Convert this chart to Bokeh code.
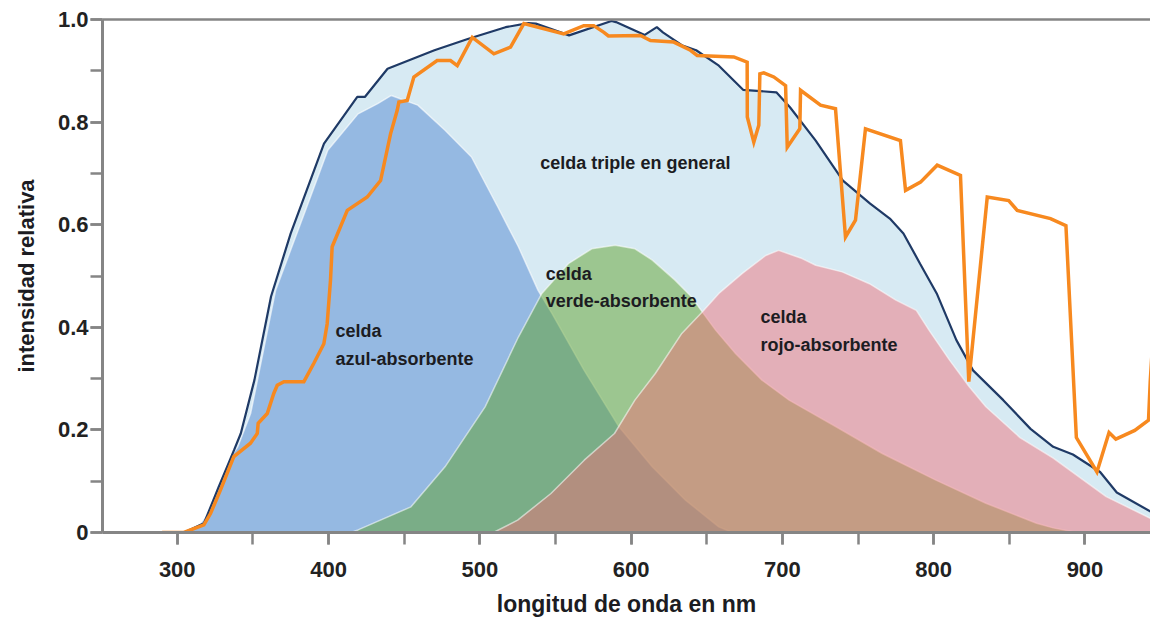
from bokeh.plotting import figure
from bokeh.models import (Label, LinearAxis, SingleIntervalTicker, FixedTicker,
                          CustomJSTickFormatter, Range1d)
from bokeh.embed import file_html
from bokeh.resources import INLINE

# ---------------- data ----------------
# overall triple cell (dark navy outline + light blue fill)
total_x = [304.5, 317.7, 326.6, 337.6, 342, 351, 362, 375, 397, 419, 424, 439, 470, 492,
           517, 532, 537, 559, 587, 590, 609, 617, 621, 634, 643, 658, 674, 696, 705, 722,
           740, 758, 771, 780, 791, 802, 815, 826, 846, 864, 879, 892, 910, 921, 945]
total_y = [0, 0.018, 0.083, 0.161, 0.193, 0.297, 0.46, 0.583, 0.758, 0.849, 0.849, 0.904,
           0.94, 0.962, 0.985, 0.993, 0.992, 0.969, 0.997, 0.995, 0.97, 0.985, 0.975, 0.949,
           0.94, 0.91, 0.863, 0.858, 0.829, 0.764, 0.686, 0.641, 0.612, 0.583, 0.524, 0.466,
           0.375, 0.316, 0.258, 0.202, 0.167, 0.152, 0.118, 0.078, 0.038]

# blue-absorbing cell
blue_x = [304, 315.5, 322, 326.5, 335.5, 340, 348.5, 353, 365, 384, 399.5, 419.5, 432.5,
          441.5, 459, 477, 494.5, 512, 525.5, 538.5, 547.5, 569, 592, 614, 636, 658, 667]
blue_y = [0, 0.018, 0.044, 0.089, 0.148, 0.167, 0.232, 0.297, 0.472, 0.622, 0.745, 0.816,
          0.836, 0.852, 0.833, 0.784, 0.732, 0.634, 0.557, 0.472, 0.428, 0.316, 0.206,
          0.128, 0.063, 0.011, 0]

# green-absorbing cell
green_x = [415, 419.5, 454.5, 477, 503.5, 525.5, 541, 558.5, 574, 589.5, 602.5, 614, 629,
           640, 647, 656, 669, 686.5, 704.5, 735.5, 766, 801.5, 834.5, 868, 879, 895]
green_y = [0, 0.005, 0.05, 0.128, 0.245, 0.381, 0.466, 0.524, 0.553, 0.56, 0.553, 0.531,
           0.492, 0.459, 0.43, 0.394, 0.349, 0.297, 0.258, 0.206, 0.154, 0.102, 0.057,
           0.018, 0.009, 0]

# red-absorbing cell
red_x = [509, 525, 547, 569, 589, 602.5, 616, 633.5, 647, 658, 673.5, 689, 697.5, 713,
         722, 739.5, 757.5, 775, 788.5, 797, 810.5, 823.5, 834.5, 857, 879, 914, 945]
red_y = [0, 0.024, 0.076, 0.141, 0.193, 0.258, 0.31, 0.388, 0.43, 0.466, 0.505, 0.54,
         0.55, 0.534, 0.521, 0.508, 0.485, 0.453, 0.433, 0.394, 0.336, 0.284, 0.245,
         0.185, 0.145, 0.07, 0.025]

# solar spectrum (orange)
sun_x = [290, 304.4, 317.6, 322.0, 328.6, 337.4, 348.4, 352.9, 353.5, 359.5, 363.8, 366.1,
         370.5, 383.7, 390.3, 396.9, 399.1, 401.3, 402.4, 412.4, 425.6, 434.4, 441.0, 445.4,
         446.5, 452.0, 456.4, 471.8, 480.6, 485.1, 495.0, 509.3, 520.3, 529.1, 555.5, 568.7,
         575.3, 582.0, 585.0, 606.2, 612.8, 628.2, 639.2, 643.7, 667.9, 676.7, 676.8, 681.1,
         684.4, 685.1, 687.7, 694.3, 702.1, 703.2, 711.5, 712.0, 725.2, 735.1, 741.7, 748.3,
         754.9, 778.0, 781.4, 791.3, 802.3, 817.7, 823.2, 835.4, 849.6, 855.2, 877.2, 887.4,
         894.3, 907.9, 915.9, 920.4, 932.9, 942.0, 943.1, 945.2]
sun_y = [0, 0, 0.015, 0.037, 0.083, 0.148, 0.174, 0.193, 0.213, 0.232, 0.271, 0.287,
         0.294, 0.294, 0.33, 0.368, 0.407, 0.492, 0.557, 0.628, 0.654, 0.686, 0.777, 0.823,
         0.839, 0.842, 0.888, 0.92, 0.92, 0.91, 0.965, 0.933, 0.946, 0.992, 0.972, 0.988,
         0.988, 0.975, 0.968, 0.969, 0.959, 0.956, 0.94, 0.93, 0.927, 0.917, 0.81, 0.761,
         0.794, 0.894, 0.896, 0.888, 0.871, 0.751, 0.787, 0.862, 0.833, 0.826, 0.576, 0.609,
         0.787, 0.764, 0.667, 0.683, 0.716, 0.696, 0.294, 0.654, 0.647, 0.628, 0.612, 0.598,
         0.185, 0.118, 0.195, 0.182, 0.199, 0.219, 0.293, 0.393]

x_title = "longitud de onda en nm"
y_title = "intensidad relativa"

FONT = "Liberation Sans"
AXIS_GRAY = "#858585"
TEXT = "#1c1c22"

p = figure(width=1150, height=619, output_backend="svg", toolbar_location=None,
           x_range=Range1d(250.6, 943.3), y_range=Range1d(0, 1.0),
           min_border_left=102, min_border_right=0, min_border_top=19,
           min_border_bottom=86)
p.outline_line_color = None
p.xgrid.visible = False
p.ygrid.visible = False
p.background_fill_color = "white"
p.border_fill_color = "white"

# areas
p.varea(x=total_x, y1=0, y2=total_y, fill_color="#d7eaf3")
p.varea(x=blue_x, y1=0, y2=blue_y, fill_color="#95b9e2")
p.line(blue_x, blue_y, line_color="white", line_alpha=0.6, line_width=1.5)
p.varea(x=green_x, y1=0, y2=green_y, fill_color="#5ea228", fill_alpha=0.49)
p.line(green_x, green_y, line_color="white", line_alpha=0.55, line_width=1.5)
p.varea(x=red_x, y1=0, y2=red_y, fill_color="#f06f78", fill_alpha=0.48)
p.line(red_x, red_y, line_color="white", line_alpha=0.55, line_width=1.5)

p.line(total_x, total_y, line_color="#1f3a66", line_width=2.2)
p.line(sun_x, sun_y, line_color="#f7891f", line_width=3.5, line_join="miter")

# axes
xa = p.xaxis[0]
xa.ticker = SingleIntervalTicker(interval=100, num_minor_ticks=2)
ya = p.yaxis[0]
ya.ticker = SingleIntervalTicker(interval=0.2, num_minor_ticks=2)
ya.formatter = CustomJSTickFormatter(code="return tick == 0 ? '0' : tick.toFixed(1);")
for ax in (xa, ya):
    ax.axis_line_color = AXIS_GRAY
    ax.axis_line_width = 3
    ax.major_tick_line_color = AXIS_GRAY
    ax.minor_tick_line_color = AXIS_GRAY
    ax.major_tick_line_width = 2.5
    ax.minor_tick_line_width = 2.5
    ax.major_tick_in = 0
    ax.minor_tick_in = 0
    ax.major_tick_out = 12
    ax.minor_tick_out = 12
    ax.major_label_text_font = FONT
    ax.major_label_text_font_style = "bold"
    ax.major_label_text_font_size = "22px"
    ax.major_label_text_color = "#222222"
    ax.axis_label_text_font = FONT
    ax.axis_label_text_font_style = "bold"
    ax.axis_label_text_color = TEXT
xa.axis_label = x_title
xa.axis_label_text_font_size = "23px"
xa.major_label_standoff = 17
xa.axis_label_standoff = 11
ya.axis_label = y_title
ya.axis_label_text_font_size = "22px"
ya.major_label_standoff = 2
ya.axis_label_standoff = 16

top = LinearAxis(ticker=FixedTicker(ticks=[]), major_label_text_font_size="0px",
                 axis_line_color=AXIS_GRAY, axis_line_width=2.5,
                 major_tick_line_color=None, minor_tick_line_color=None)
p.add_layout(top, "above")

# annotations
labels = [
    (540, 0.72, "celda triple en general"),
    (543.5, 0.503, "celda"),
    (543.5, 0.451, "verde-absorbente"),
    (404.6, 0.393, "celda"),
    (404.6, 0.339, "azul-absorbente"),
    (685.5, 0.420, "celda"),
    (685.5, 0.365, "rojo-absorbente"),
]
for lx, ly, t in labels:
    p.add_layout(Label(x=lx, y=ly, text=t, text_font=FONT, text_font_style="bold",
                       text_font_size="18px", text_color=TEXT, text_baseline="middle",
                       text_align="left"))

open("out.html", "w").write(file_html(p, INLINE))
